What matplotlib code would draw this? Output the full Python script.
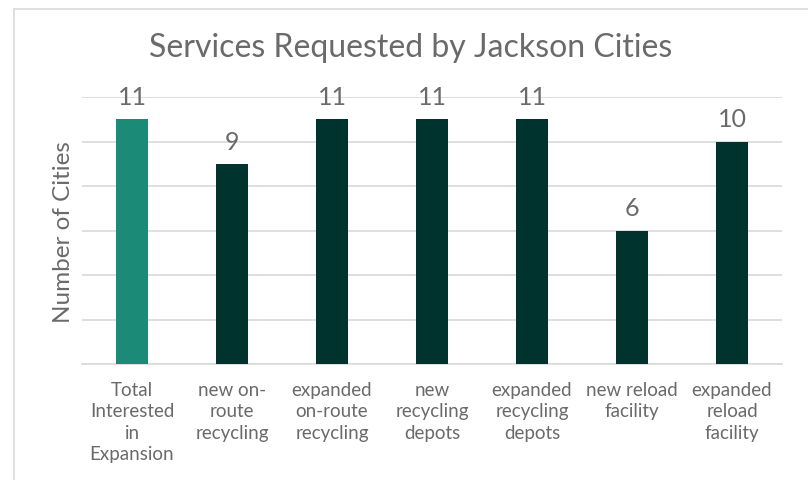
import matplotlib
matplotlib.use('Agg')
from matplotlib import pyplot as plt
from matplotlib.patches import Rectangle

categories = ['Total\nInterested\nin\nExpansion', 'new on-\nroute\nrecycling', 'expanded\non-route\nrecycling',
              'new\nrecycling\ndepots', 'expanded\nrecycling\ndepots', 'new reload\nfacility',
              'expanded\nreload\nfacility']
values = [11, 9, 11, 11, 11, 6, 10]
colors = ['#1b8a77', '#00332e', '#00332e', '#00332e', '#00332e', '#00332e', '#00332e']

plt.rcParams['font.family'] = ['Lato', 'DejaVu Sans']
txt = '#6a6a6a'

fig = plt.figure(figsize=(8.08, 4.81), dpi=100)
ax = fig.add_axes([82/808, 1-365/481, 700/808, (365-98)/481])
x = range(len(values))
ax.bar(x, values, width=0.32, color=colors, zorder=3)
for i, v in zip(x, values):
    ax.text(i, v + 0.5, str(v), ha='center', va='bottom', fontsize=18, color=txt)
ax.set_xlim(-0.5, len(values) - 0.5)
ax.set_ylim(0, 12)
ax.set_yticks(range(0, 13, 2))
ax.set_yticklabels([])
ax.tick_params(axis='y', length=0)
ax.tick_params(axis='x', length=0, pad=12)
ax.set_xticks(list(x))
ax.set_xticklabels(categories, fontsize=13.5, color=txt, linespacing=1.32)
ax.grid(axis='y', color='#d9d9d9', linewidth=1.2, zorder=0)
for s in ['top', 'right', 'left']:
    ax.spines[s].set_visible(False)
ax.spines['bottom'].set_color('#d9d9d9')
ax.spines['bottom'].set_linewidth(1.2)
fig.text(63/808, 1-232/481, 'Number of Cities', rotation=90, ha='center', va='center',
         fontsize=17.5, color=txt)
fig.text(411/808, 1-48/481, 'Services Requested by Jackson Cities', ha='center', va='center',
         fontsize=23, color=txt)
fig.patches.append(Rectangle((14/808, -0.05), 1.0, 1 - 10/481 + 0.05, transform=fig.transFigure,
                             fill=False, edgecolor='#d9d9d9', linewidth=1.2))
fig.savefig('out.png', dpi=100)
